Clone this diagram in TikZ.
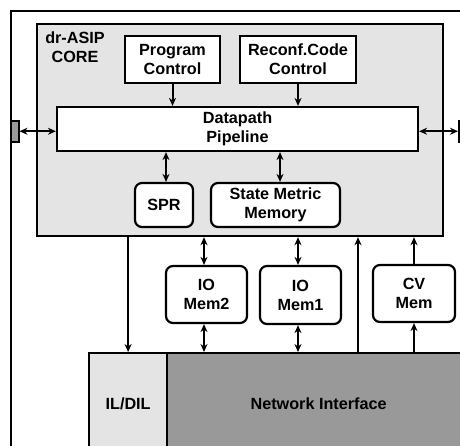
\documentclass[tikz,border=0pt]{standalone}
\usepackage{fontspec}
\setmainfont{Liberation Sans}
\usetikzlibrary{arrows.meta}
\definecolor{coregray}{RGB}{228,228,228}
\definecolor{nigray}{RGB}{153,153,153}
\begin{document}
\begin{tikzpicture}[x=1pt,y=-1pt,
  every node/.style={font=\fontsize{16.2}{19}\selectfont\bfseries, align=center, inner sep=0pt},
  blk/.style={draw, line width=2.2pt, fill=white},
  rblk/.style={blk, rounded corners=7pt},
  frame/.style={draw, line width=2.2pt, anchor=north west},
  conn/.style={line width=2pt, -{Stealth[length=8pt,width=7pt]}},
  bconn/.style={line width=2pt, {Stealth[length=8pt,width=7pt]}-{Stealth[length=8pt,width=7pt]}},
]
\clip (0,0) rectangle (460,445);
\fill[white] (0,0) rectangle (460,445);
% outer box
\node[frame, minimum width=480, minimum height=480] (outer) at (10,10) {};
% core
\node[frame, fill=coregray, minimum width=406, minimum height=212] (core) at (36,23) {};
\node (corelbl) at (75,47) {dr-ASIP\\CORE};
% ports
\node[frame, line width=1.5pt, fill=nigray, minimum width=8, minimum height=21] (lport) at (10,120) {};
\node[frame, line width=1.5pt, fill=nigray, minimum width=8, minimum height=21] (rport) at (458,120) {};
% blocks
\node[blk, minimum width=95, minimum height=47] (prog) at (172.5,59.5) {Program\\Control};
\node[blk, minimum width=116, minimum height=47] (reconf) at (298,59.5) {Reconf.Code\\Control};
\node[blk, minimum width=361, minimum height=44] (dp) at (237.5,129) {Datapath\\Pipeline};
\node[rblk, minimum width=58, minimum height=44] (spr) at (164,205) {SPR};
\node[rblk, minimum width=129, minimum height=44] (smm) at (275.5,205) {State Metric\\Memory};
\node[rblk, minimum width=81, minimum height=57] (io2) at (206.5,294.5) {IO\\Mem2};
\node[rblk, minimum width=81, minimum height=58] (io1) at (300.5,295) {IO\\Mem1};
\node[rblk, minimum width=82, minimum height=57] (cv) at (414,293.5) {CV\\Mem};
% bottom
\node[frame, fill=coregray, minimum width=78, minimum height=102] (ildil) at (88,352) {IL/DIL};
\node[frame, fill=nigray, minimum width=303, minimum height=102] (ni) at (166,352) {Network Interface};
% connectors
\draw[bconn] (lport.east) -- (lport.east -| dp.west);
\draw[bconn] (dp.east |- rport.west) -- (rport.west);
\draw[conn] (prog) -- (prog |- dp.north);
\draw[conn] (reconf) -- (reconf |- dp.north);
\draw[bconn] ([xshift=2pt]spr.north |- dp.south) -- ([xshift=2pt]spr.north);
\draw[bconn] ([xshift=4.5pt]smm.north |- dp.south) -- ([xshift=4.5pt]smm.north);
\draw[conn] (ildil.north |- core.south) -- (ildil.north);
\draw[bconn] ([xshift=-2.5pt]io2.north |- core.south) -- ([xshift=-2.5pt]io2.north);
\draw[bconn] ([xshift=-2.5pt]io2.south) -- ([xshift=-2.5pt]io2.south |- ni.north);
\draw[bconn] ([xshift=-2.5pt]io1.north |- core.south) -- ([xshift=-2.5pt]io1.north);
\draw[bconn] ([xshift=-2.5pt]io1.south) -- ([xshift=-2.5pt]io1.south |- ni.north);
\coordinate (niup) at (358,352);
\draw[conn] (niup) -- (niup |- core.south);
\draw[conn] (cv) -- (cv |- core.south);
\draw[conn] (cv.south |- ni.north) -- (cv.south);
\end{tikzpicture}
\end{document}
